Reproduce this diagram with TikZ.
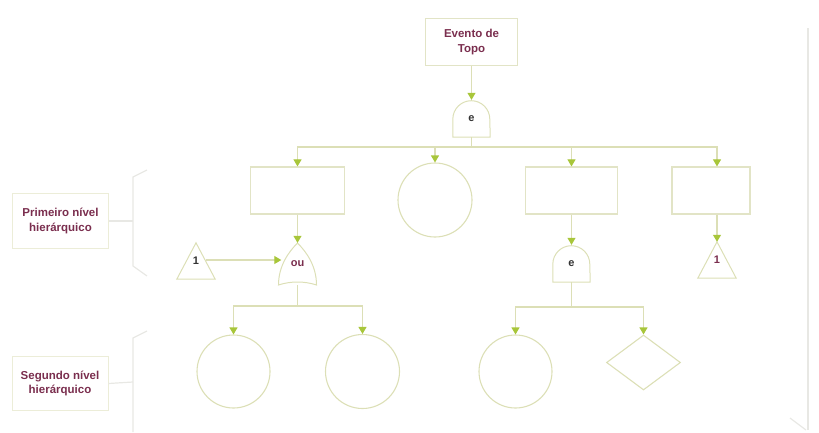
\documentclass[tikz,border=0pt]{standalone}
\usepackage{fontspec}
\setmainfont{Liberation Sans}
\usetikzlibrary{arrows.meta,shapes.geometric,calc}
\definecolor{wine}{HTML}{7A2E4E}
\definecolor{edge}{HTML}{DCDFB6}
\definecolor{boxedge}{HTML}{E2E4C6}
\definecolor{tipgreen}{HTML}{A8C63A}
\definecolor{faint}{HTML}{E8E8E4}
\definecolor{lbledge}{HTML}{ECEDD8}
\definecolor{ink}{HTML}{333333}

\begin{document}
\begin{tikzpicture}[x=1pt,y=-1pt,
  every node/.style={font=\fontsize{11.5}{14.5}\selectfont\bfseries, text=wine, inner sep=0pt, align=center},
  evbox/.style={draw=boxedge, line width=1.2pt, rectangle, minimum height=47pt},
  basic/.style={draw=edge, line width=1.1pt, circle},
  gatenode/.style={minimum width=37pt, minimum height=37pt, font=\fontsize{11}{12}\selectfont\bfseries},
  trinode/.style={minimum width=38pt, minimum height=36pt, font=\fontsize{11}{12}\selectfont\bfseries},
  gateline/.style={draw=edge, line width=1pt},
  wire/.style={draw=edge, line width=1.1pt},
  feed/.style={wire, -{Triangle[length=7pt,width=8pt,color=tipgreen]}},
  lblbox/.style={draw=lbledge, line width=1pt, minimum width=96pt, minimum height=55pt},
  bracket/.style={draw=faint, line width=1.2pt},
]
\useasboundingbox (0,0) rectangle (819,432);

% top event and its AND gate
\node[evbox, minimum width=92pt] (top) at (471.5,42) {Evento de\\Topo};
\node[gatenode] (g0) at (471.5,118.5) {\textcolor{ink}{e}};
\coordinate (j0) at (471.5,147);

% first level events
\node[evbox, minimum width=94pt] (e1) at (297.5,190.5) {};
\node[basic, minimum size=74pt] (e2) at (435,200) {};
\node[evbox, minimum width=92pt] (e3) at (571.5,190.5) {};
\node[evbox, minimum width=78pt] (e4) at (711,190.5) {};

% gates and transfer triangles of the first level
\node[gatenode, minimum width=38pt, minimum height=42pt] (g1) at (297.5,264) {ou};
\node[trinode] (t1) at (196,261) {\textcolor{ink}{1}};
\node[gatenode] (g2) at (571.5,263.5) {\textcolor{ink}{e}};
\node[trinode] (t2) at (717,260) {1};
\coordinate (j1) at (297.5,306);
\coordinate (j2) at (571.5,307);

% second level events
\node[basic, minimum size=73pt] (c1) at (233.5,371.5) {};
\node[basic, minimum size=74pt] (c2) at (362.5,371.5) {};
\node[basic, minimum size=73pt] (c3) at (515.5,371.5) {};
\node[diamond, draw=edge, line width=1.1pt, minimum width=74pt, minimum height=55pt] (d1) at (643.5,362.5) {};

% gate outlines
\draw[gateline] (g0.south west) -- ++(0,-18) arc[start angle=180, end angle=0, radius=18.5pt] -- (g0.south east) -- cycle;
\draw[gateline] (g2.south west) -- ++(0,-18) arc[start angle=180, end angle=0, radius=18.5pt] -- (g2.south east) -- cycle;
\draw[gateline, shift={(g1.center)}] (-19,21) .. controls (-19,2) and (-9,-12) .. (0,-21)
  .. controls (9,-12) and (19,2) .. (19,21) .. controls (7,17) and (-7,17) .. (-19,21) -- cycle;
\draw[gateline] (t1.south west) -- (t1.north) -- (t1.south east) -- cycle;
\draw[gateline] (t2.south west) -- (t2.north) -- (t2.south east) -- cycle;

% connectors
\draw[feed] (top) -- (g0);
\draw[wire] (g0.south) -- (j0);
\draw[feed] (j0) -| (e1.north);
\draw[feed] (j0) -| (e2.north);
\draw[feed] (j0) -| (e3.north);
\draw[feed] (j0) -| ([xshift=6pt]e4.north);
\draw[feed] (e1) -- (g1);
\draw[feed] (e3) -- (g2);
\draw[feed] ([xshift=6pt]e4.south) -- (t2.north);
\draw[feed] ([xshift=10pt,yshift=1pt]t1.center) -- ($(t1.center -| g1.west)+(3,-1)$);
\draw[wire] (g1.south) -- (j1);
\draw[feed] (j1) -| (c1.north);
\draw[feed] (j1) -| (c2.north);
\draw[wire] (g2.south) -- (j2);
\draw[feed] (j2) -| (c3.north);
\draw[feed] (j2) -| (d1.north);

% level labels with their brackets
\node[lblbox] (lv1) at (60.5,221) {Primeiro nível\\hierárquico};
\node[lblbox, minimum height=54pt] (lv2) at (60,383.5) {Segundo nível\\hierárquico};
\coordinate (br1) at (133,221);
\coordinate (br2) at (133,382);
\draw[bracket] (147,170) -- (133,177) -- (133,266) -- (147,276);
\draw[bracket] (lv1.east) -- (br1);
\draw[bracket] (147,331) -- (133,338) -- (133,432);
\draw[bracket] (lv2.east) -- (br2);

% right margin rule
\draw[bracket] (808,28) -- (808,430);
\draw[bracket] (790,418) -- (806,430);
\end{tikzpicture}
\end{document}
